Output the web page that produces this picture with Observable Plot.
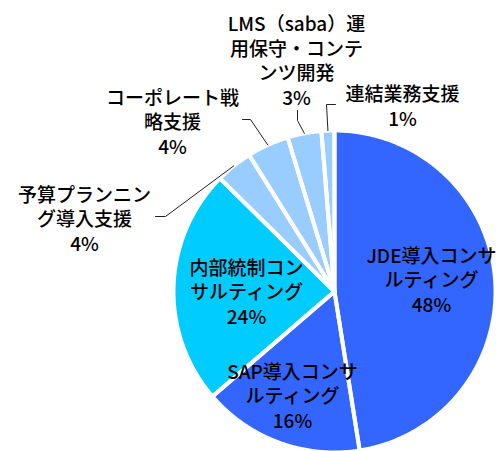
<!DOCTYPE html>
<html>
<head>
<meta charset="utf-8">
<script src="https://cdn.jsdelivr.net/npm/d3@7"></script>
<script src="https://cdn.jsdelivr.net/npm/@observablehq/plot@0.6"></script>
<style>
  html, body { margin: 0; padding: 0; background: #fff; }
  #chart { width: 499px; height: 451px; }
</style>
</head>
<body>
<div id="chart"></div>
<script>
// ---- data ----
const categories = [
  "JDE導入コンサルティング",
  "SAP導入コンサルティング",
  "内部統制コンサルティング",
  "予算プランニング導入支援",
  "コーポレート戦略支援",
  "LMS（saba）運用保守・コンテンツ開発",
  "連結業務支援"
];
const values = [47.5, 16.2, 23.7, 3.7, 4.2, 3.4, 1.3];
const labelText = [
  "JDE導入コンサ\nルティング",
  "SAP導入コンサ\nルティング",
  "内部統制コン\nサルティング",
  "予算プランニン\nグ導入支援",
  "コーポレート戦\n略支援",
  "LMS（saba）運\n用保守・コンテ\nンツ開発",
  "連結業務支援"
];
const colors = ["#3366FF", "#3366FF", "#00CCFF", "#99CCFF", "#99CCFF", "#99CCFF", "#99CCFF"];

// ---- layout (pixel offsets from the pie centre, y downward) ----
const R = 161;
const labelOffset = [[97, -12], [-42, 104], [-88, 0], [-250, -73], [-162, -170], [-38, -231.5], [68, -186]];
const leaderElbows = [null, null, null, [[-169, -75], [-179, -75]], [[-84, -172], [-92, -172]], [[-37, -171], [-37, -181]], [[-8, -187], [1, -187]]];

const rows = categories.map((c, i) => ({cat: c, value: values[i]}));
const arcs = d3.pie().sort(null).value(d => d.value).startAngle(0).endAngle(2 * Math.PI)(rows);
const polar = (t, r) => [r * Math.sin(t), -r * Math.cos(t)];

const slicePts = arcs.flatMap(a => {
  const pts = [{cat: a.data.cat, x: 0, y: 0}];
  const n = Math.max(2, Math.ceil((a.endAngle - a.startAngle) / (Math.PI / 360)));
  for (let i = 0; i <= n; i++) {
    const t = a.startAngle + (a.endAngle - a.startAngle) * i / n;
    const [x, y] = polar(t, R);
    pts.push({cat: a.data.cat, x, y});
  }
  pts.push({cat: a.data.cat, x: 0, y: 0});
  return pts;
});

const labels = arcs.map((a, i) => ({
  cat: a.data.cat,
  x: labelOffset[i][0],
  y: labelOffset[i][1],
  text: labelText[i] + "\n" + Math.round(a.data.value) + "%"
}));

const leaderPts = arcs.flatMap((a, i) => {
  if (!leaderElbows[i]) return [];
  const mid = (a.startAngle + a.endAngle) / 2;
  const [x, y] = polar(mid, R);
  return [{cat: a.data.cat, x, y}, ...leaderElbows[i].map(([ex, ey]) => ({cat: a.data.cat, x: ex, y: ey}))];
});

const font = "'Noto Sans CJK JP', 'Noto Sans', sans-serif";

const chart = Plot.plot({
  width: 499,
  height: 451,
  margin: 0,
  style: {background: "#fff", overflow: "visible", fontFamily: font},
  x: {domain: [-334, 165], range: [0, 499], axis: null},
  y: {domain: [-291, 160], range: [0, 451], axis: null},
  color: {type: "ordinal", domain: categories, range: colors},
  marks: [
    Plot.line(slicePts, {x: "x", y: "y", z: "cat", fill: "cat", stroke: null, curve: "linear"}),
    Plot.line(slicePts, {x: "x", y: "y", z: "cat", stroke: "#fff", strokeWidth: 4, strokeLinejoin: "round", fill: "none", curve: "linear"}),
    Plot.line(leaderPts, {x: "x", y: "y", z: "cat", stroke: "#222", strokeWidth: 1, curve: "linear"}),
    Plot.text(labels, {x: "x", y: "y", text: "text", fontSize: 19, fontWeight: 500, lineHeight: 1.29, fill: "#000", fontFamily: font})
  ]
});
document.getElementById("chart").appendChild(chart);
</script>
</body>
</html>
